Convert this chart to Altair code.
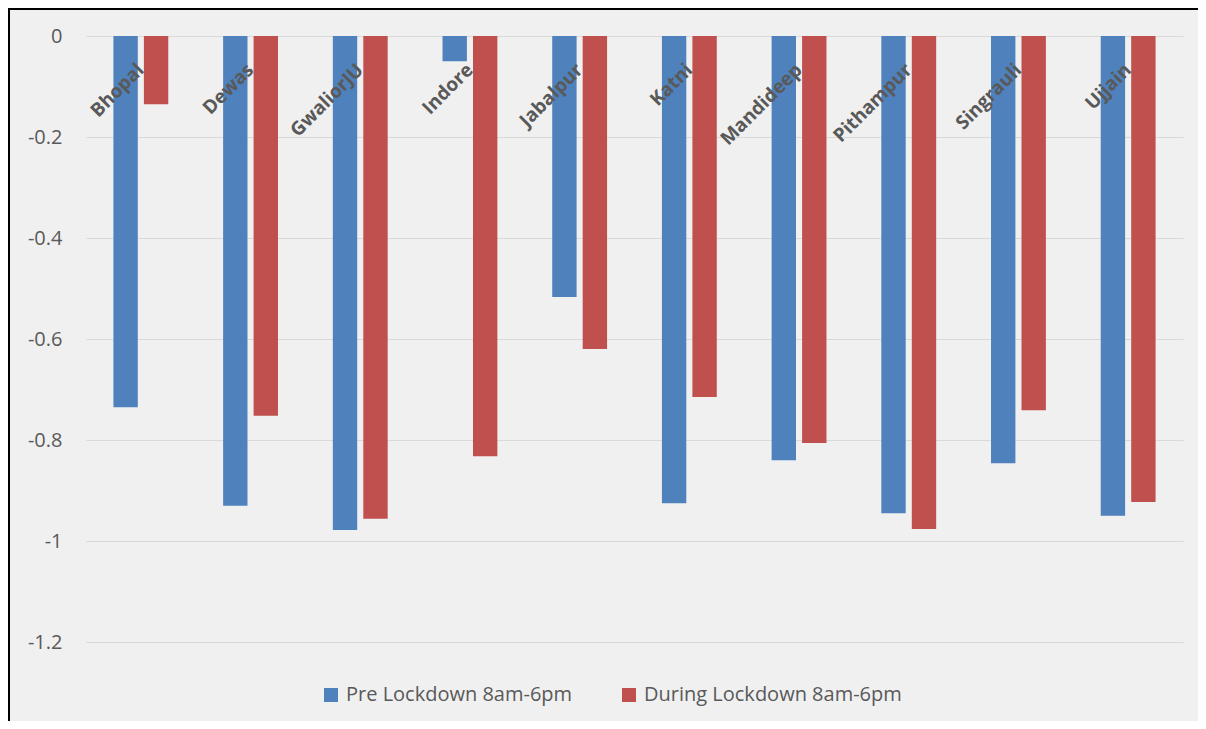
import altair as alt
import pandas as pd

cities = ["Bhopal", "Dewas", "GwaliorJU", "Indore", "Jabalpur", "Katni",
          "Mandideep", "Pithampur", "Singrauli", "Ujjain"]
pre = [-0.735, -0.930, -0.978, -0.050, -0.517, -0.925, -0.840, -0.945, -0.846, -0.950]
during = [-0.135, -0.752, -0.956, -0.832, -0.620, -0.715, -0.806, -0.976, -0.741, -0.923]
series = ["Pre Lockdown 8am-6pm", "During Lockdown 8am-6pm"]
colors = ["#4f81bd", "#c0504d"]
y_ticks = [0, -0.2, -0.4, -0.6, -0.8, -1.0, -1.2]

rows = []
for c, a, b in zip(cities, pre, during):
    rows.append({"city": c, "series": series[0], "value": a})
    rows.append({"city": c, "series": series[1], "value": b})
df = pd.DataFrame(rows)
cat_df = pd.DataFrame({"city": cities})
one = pd.DataFrame({"k": [0]})

FONT = "Open Sans"
TXT = "#595959"

x_scale = alt.Scale(domain=cities, paddingInner=0.5, paddingOuter=0.25)

bars = alt.Chart(df).mark_bar().encode(
    x=alt.X("city:N", scale=x_scale, sort=cities, axis=None),
    xOffset=alt.XOffset("series:N", scale=alt.Scale(domain=series, paddingInner=0.2), sort=series),
    y=alt.Y("value:Q", stack=None,
            scale=alt.Scale(domain=[-1.2, 0], nice=False, zero=False),
            axis=alt.Axis(values=y_ticks,
                          labelExpr="datum.value == 0 ? '0' : '' + datum.value",
                          title=None)),
    color=alt.Color("series:N", scale=alt.Scale(domain=series, range=colors), sort=series,
                    legend=alt.Legend(title=None, orient="none", legendX=235, legendY=649,
                                      direction="horizontal", symbolType="square",
                                      symbolSize=196, symbolStrokeWidth=0,
                                      labelFont=FONT, labelFontSize=20, labelColor=TXT,
                                      labelOffset=5, columnPadding=46, labelLimit=400)),
)

labels = alt.Chart(cat_df).mark_text(
    angle=315, align="right", baseline="middle", font=FONT, fontSize=19,
    fontWeight="bold", color=TXT
).encode(
    x=alt.X("city:N", scale=x_scale, sort=cities, axis=None),
    y=alt.value(31),
    text="city:N",
)

border_left = alt.Chart(one).mark_rule(color="black", strokeWidth=2).encode(
    x=alt.value(-77), y=alt.value(-28), y2=alt.value(685))
border_top = alt.Chart(one).mark_rule(color="black", strokeWidth=2).encode(
    y=alt.value(-27), x=alt.value(-78), x2=alt.value(1112))

chart = alt.layer(bars, labels, border_left, border_top).properties(
    width=1097, height=606,
    padding={"left": 78, "top": 28, "right": 15, "bottom": 79},
    autosize=alt.AutoSizeParams(type="none"),
    background="#f0f0f0",
).configure_view(stroke=None).configure_axis(
    domain=False, ticks=False, labelPadding=24, labelFont=FONT, labelFontSize=20,
    labelColor=TXT, gridColor="#d9d9d9", gridWidth=1,
)

chart.save("out.html", embed_options={"renderer": "svg", "actions": False})
